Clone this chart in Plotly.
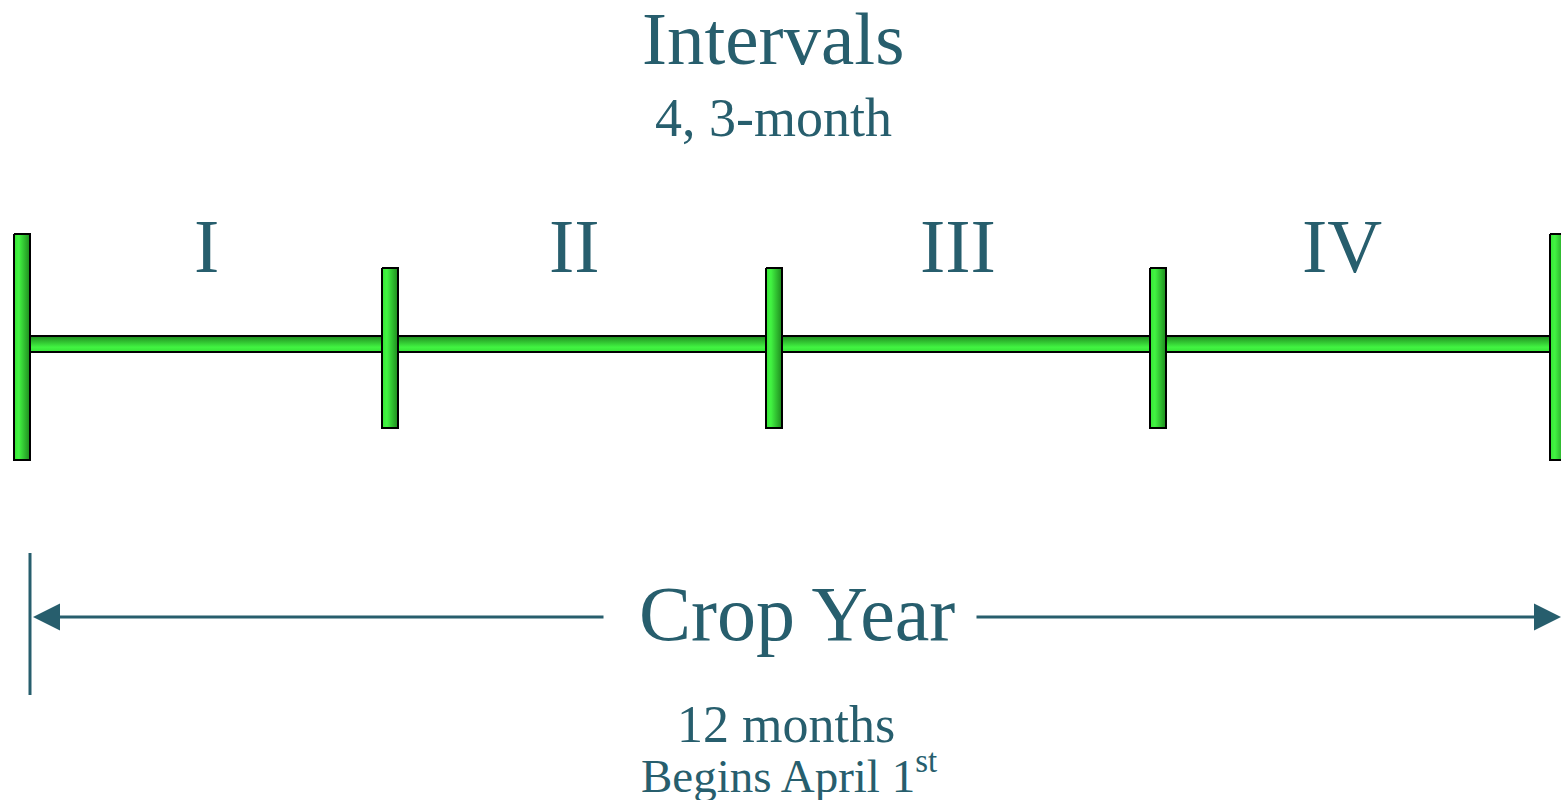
import plotly.graph_objects as go

# ---- data ----
title_text = "Intervals"
subtitle_text = "4, 3-month"
interval_labels = ["I", "II", "III", "IV"]
# interval boundaries (diagram units, 0..1561 across the page)
boundary_x = [22, 390, 774, 1158, 1558]
boundary_is_end = [True, False, False, False, True]
label_x = [206, 574, 958, 1342]
span_label = "Crop Year"
span_note1 = "12 months"
span_note2 = "Begins April 1<sup>st</sup>"

TEAL = "#275E6D"
GREEN_SCALE = [[0, "#36E436"], [0.3, "#42F442"], [1, "#1E8A1E"]]
FONT = "Liberation Serif"

W, H = 1561, 800
bar_half_w = 8
end_top, end_bot = 234, 460
mid_top, mid_bot = 268, 428
axis_top, axis_bot = 336, 352

fig = go.Figure()

# horizontal timeline bar (vertical gradient)
x0, x1 = boundary_x[0] + bar_half_w, boundary_x[-1] - bar_half_w
fig.add_trace(go.Scatter(
    x=[x0, x1, x1, x0, x0], y=[axis_top, axis_top, axis_bot, axis_bot, axis_top],
    mode="lines", fill="toself",
    line=dict(color="black", width=2),
    fillgradient=dict(type="vertical", colorscale=GREEN_SCALE),
    hoverinfo="skip", showlegend=False))

# boundary posts (horizontal gradient)
for bx, is_end in zip(boundary_x, boundary_is_end):
    t, b = (end_top, end_bot) if is_end else (mid_top, mid_bot)
    l, r = bx - bar_half_w, bx + bar_half_w
    fig.add_trace(go.Scatter(
        x=[l, r, r, l, l], y=[t, t, b, b, t],
        mode="lines", fill="toself",
        line=dict(color="black", width=2),
        fillgradient=dict(type="horizontal", colorscale=GREEN_SCALE),
        hoverinfo="skip", showlegend=False))

# interval labels
for lx, lab in zip(label_x, interval_labels):
    fig.add_annotation(x=lx, y=246, text=lab, showarrow=False,
                       font=dict(family=FONT, size=76, color=TEAL),
                       xanchor="center", yanchor="middle")

fig.add_annotation(x=773, y=38, text=title_text, showarrow=False,
                   font=dict(family=FONT, size=75, color=TEAL))
fig.add_annotation(x=773, y=118, text=subtitle_text, showarrow=False,
                   font=dict(family=FONT, size=54, color=TEAL))

# crop-year span
fig.add_shape(type="line", x0=30, x1=30, y0=553, y1=695,
              line=dict(color=TEAL, width=3))
fig.add_annotation(x=33, y=617, ax=605, ay=617, axref="x", ayref="y",
                   xref="x", yref="y", text="", showarrow=True,
                   arrowhead=2, arrowsize=1.8, arrowwidth=3, arrowcolor=TEAL, standoff=0)
fig.add_annotation(x=1561, y=617, ax=975, ay=617, axref="x", ayref="y",
                   xref="x", yref="y", text="", showarrow=True,
                   arrowhead=2, arrowsize=1.8, arrowwidth=3, arrowcolor=TEAL, standoff=0)
fig.add_annotation(x=797, y=613, text=span_label, showarrow=False,
                   font=dict(family=FONT, size=78, color=TEAL))
fig.add_annotation(x=786, y=724, text=span_note1, showarrow=False,
                   font=dict(family=FONT, size=52, color=TEAL))
fig.add_annotation(x=789, y=772, text=span_note2, showarrow=False,
                   font=dict(family=FONT, size=47, color=TEAL))

fig.update_xaxes(range=[0, W], visible=False, fixedrange=True)
fig.update_yaxes(range=[H, 0], visible=False, fixedrange=True)
fig.update_layout(width=W, height=H, margin=dict(l=0, r=0, t=0, b=0),
                  plot_bgcolor="white", paper_bgcolor="white")

# remove the browser's default page margin so the figure fills the window exactly
fig.write_html("out.html",
               config={"displayModeBar": False},
               post_script="document.body.style.margin='0';"
                           "document.body.style.overflow='hidden';")
